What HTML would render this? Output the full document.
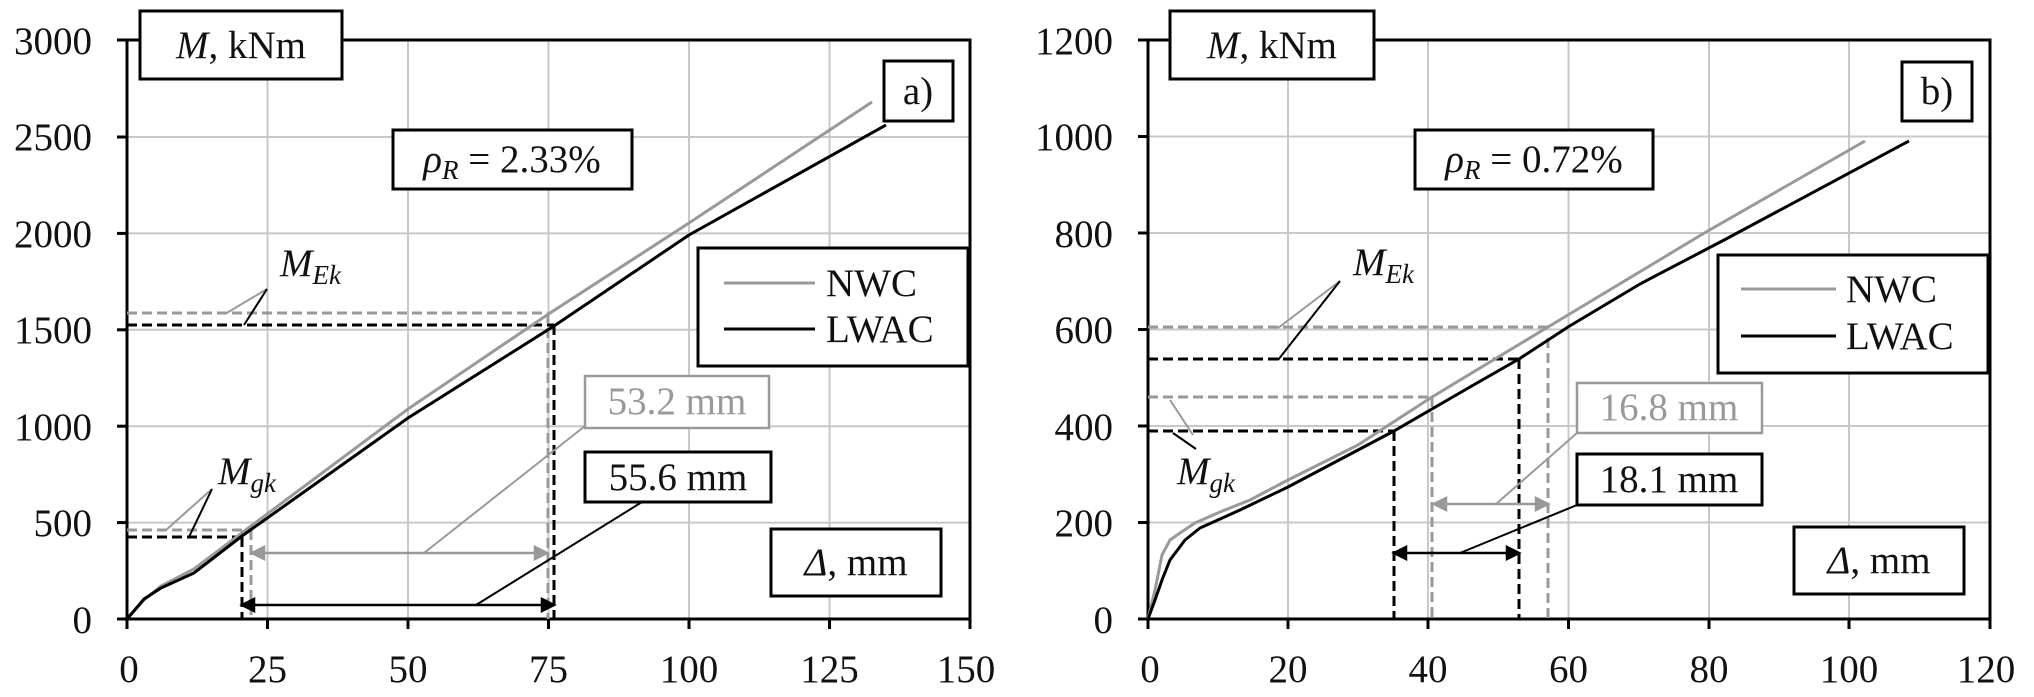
<!DOCTYPE html>
<html><head><meta charset="utf-8"><style>
html,body{margin:0;padding:0;background:#fff;width:2034px;height:697px;overflow:hidden}
text{font-family:"Liberation Serif","Times New Roman",serif;font-size:39px;fill:#111}
</style></head><body>
<svg width="2034" height="697" viewBox="0 0 2034 697" xmlns="http://www.w3.org/2000/svg">
<!-- ============ LEFT PANEL ============ -->
<g stroke="#c8c8c8" stroke-width="2">
<line x1="267.5" y1="40" x2="267.5" y2="619"/><line x1="408" y1="40" x2="408" y2="619"/>
<line x1="548.5" y1="40" x2="548.5" y2="619"/><line x1="689" y1="40" x2="689" y2="619"/>
<line x1="829.5" y1="40" x2="829.5" y2="619"/>
<line x1="127" y1="522.6" x2="970" y2="522.6"/><line x1="127" y1="426.2" x2="970" y2="426.2"/>
<line x1="127" y1="329.8" x2="970" y2="329.8"/><line x1="127" y1="233.4" x2="970" y2="233.4"/>
<line x1="127" y1="137" x2="970" y2="137"/>
</g>
<rect x="127" y="40" width="843" height="579" fill="none" stroke="#000" stroke-width="3"/>
<g stroke="#000" stroke-width="3">
<line x1="117" y1="619" x2="127" y2="619"/><line x1="117" y1="522.6" x2="127" y2="522.6"/><line x1="117" y1="426.2" x2="127" y2="426.2"/><line x1="117" y1="329.8" x2="127" y2="329.8"/><line x1="117" y1="233.4" x2="127" y2="233.4"/><line x1="117" y1="137" x2="127" y2="137"/><line x1="117" y1="40" x2="127" y2="40"/>
<line x1="127" y1="619" x2="127" y2="629"/><line x1="267.5" y1="619" x2="267.5" y2="629"/><line x1="408" y1="619" x2="408" y2="629"/><line x1="548.5" y1="619" x2="548.5" y2="629"/><line x1="689" y1="619" x2="689" y2="629"/><line x1="829.5" y1="619" x2="829.5" y2="629"/><line x1="970" y1="619" x2="970" y2="629"/>
</g>
<g text-anchor="end">
<text transform="translate(92,633)">0</text>
<text transform="translate(92,536)">500</text>
<text transform="translate(92,440)">1000</text>
<text transform="translate(92,343)">1500</text>
<text transform="translate(92,247)">2000</text>
<text transform="translate(92,150)">2500</text>
<text transform="translate(92,54)">3000</text>
</g>
<g text-anchor="middle">
<text transform="translate(129,682)">0</text>
<text transform="translate(267.5,682)">25</text>
<text transform="translate(408,682)">50</text>
<text transform="translate(548.5,682)">75</text>
<text transform="translate(689,682)">100</text>
<text transform="translate(829.5,682)">125</text>
<text transform="translate(966,682)">150</text>
</g>
<g fill="none" stroke-width="3" stroke-dasharray="10,5">
<path d="M127,313 H548 M127,530 H251 M251,530 V619 M548,313 V619" stroke="#999"/>
<path d="M127,325 H554 M127,537 H242 M242,537 V619 M554,325 V619" stroke="#000"/>
</g>
<polyline fill="none" stroke="#999" stroke-width="3" points="127,619 144,600 161,586 194,569 251,526 408,409 548.5,314 689,223 872,102"/>
<polyline fill="none" stroke="#000" stroke-width="3" points="127,619 144,599 161,588 194,573 242,536 408,418 554,326 689,235 886,125"/>
<g stroke="#999" stroke-width="2.5" fill="#999"><line x1="256" y1="553" x2="543" y2="553"/><path d="M252,553 l12,-6 v12z M547,553 l-12,-6 v12z"/></g>
<g stroke="#000" stroke-width="2.5" fill="#000"><line x1="246" y1="605" x2="550" y2="605"/><path d="M242,605 l12,-6 v12z M554,605 l-12,-6 v12z"/></g>
<g fill="none" stroke-width="2">
<path d="M424,553 L585,426" stroke="#999"/><path d="M476,605 L642,502" stroke="#000"/>
<path d="M225,314 L267,289" stroke="#999"/><path d="M244,325 L267,289" stroke="#000"/>
<path d="M166,530 L212,489" stroke="#999"/><path d="M189,537 L212,489" stroke="#000"/>
</g>
<text transform="translate(280,276)" font-style="italic">M<tspan font-size="27" dy="8">Ek</tspan></text>
<text transform="translate(218,484)" font-style="italic">M<tspan font-size="27" dy="8">gk</tspan></text>
<g fill="#fff" stroke="#000" stroke-width="3">
<rect x="140" y="11" width="202" height="68"/>
<rect x="884" y="61" width="69" height="60"/>
<rect x="393" y="130" width="239" height="59"/>
<rect x="698" y="248" width="270" height="118"/>
<rect x="585" y="452" width="186" height="50"/>
<rect x="771" y="529" width="170" height="67"/>
</g>
<rect x="585" y="376" width="184" height="52" fill="#fff" stroke="#999" stroke-width="2.5"/>
<text transform="translate(241,58)" text-anchor="middle"><tspan font-style="italic">M</tspan>, kNm</text>
<text transform="translate(918,104)" text-anchor="middle">a)</text>
<text transform="translate(512,172)" text-anchor="middle"><tspan font-style="italic">ρ</tspan><tspan font-style="italic" font-size="27" dy="7">R</tspan><tspan dy="-7"> = 2.33%</tspan></text>
<line x1="724" y1="283" x2="815" y2="283" stroke="#999" stroke-width="3"/>
<line x1="724" y1="329" x2="815" y2="329" stroke="#000" stroke-width="3"/>
<text transform="translate(826,296)">NWC</text>
<text transform="translate(826,342)">LWAC</text>
<text transform="translate(677,414)" text-anchor="middle" style="fill:#999">53.2 mm</text>
<text transform="translate(678,490)" text-anchor="middle">55.6 mm</text>
<text transform="translate(856,575)" text-anchor="middle"><tspan font-style="italic">Δ</tspan>, mm</text>

<!-- ============ RIGHT PANEL ============ -->
<g stroke="#c8c8c8" stroke-width="2">
<line x1="1288" y1="40" x2="1288" y2="619"/><line x1="1428" y1="40" x2="1428" y2="619"/>
<line x1="1568.5" y1="40" x2="1568.5" y2="619"/><line x1="1709" y1="40" x2="1709" y2="619"/>
<line x1="1849" y1="40" x2="1849" y2="619"/>
<line x1="1148" y1="522.5" x2="1990" y2="522.5"/><line x1="1148" y1="426" x2="1990" y2="426"/>
<line x1="1148" y1="329.5" x2="1990" y2="329.5"/><line x1="1148" y1="233" x2="1990" y2="233"/>
<line x1="1148" y1="136.5" x2="1990" y2="136.5"/>
</g>
<rect x="1148" y="40" width="842" height="579" fill="none" stroke="#000" stroke-width="3"/>
<g stroke="#000" stroke-width="3">
<line x1="1138" y1="619" x2="1148" y2="619"/><line x1="1138" y1="522.5" x2="1148" y2="522.5"/><line x1="1138" y1="426" x2="1148" y2="426"/><line x1="1138" y1="329.5" x2="1148" y2="329.5"/><line x1="1138" y1="233" x2="1148" y2="233"/><line x1="1138" y1="136.5" x2="1148" y2="136.5"/><line x1="1138" y1="40" x2="1148" y2="40"/>
<line x1="1148" y1="619" x2="1148" y2="629"/><line x1="1288" y1="619" x2="1288" y2="629"/><line x1="1428" y1="619" x2="1428" y2="629"/><line x1="1568.5" y1="619" x2="1568.5" y2="629"/><line x1="1709" y1="619" x2="1709" y2="629"/><line x1="1849" y1="619" x2="1849" y2="629"/><line x1="1990" y1="619" x2="1990" y2="629"/>
</g>
<g text-anchor="end">
<text transform="translate(1113,633)">0</text>
<text transform="translate(1113,536)">200</text>
<text transform="translate(1113,440)">400</text>
<text transform="translate(1113,343)">600</text>
<text transform="translate(1113,247)">800</text>
<text transform="translate(1113,150)">1000</text>
<text transform="translate(1113,54)">1200</text>
</g>
<g text-anchor="middle">
<text transform="translate(1150,682)">0</text>
<text transform="translate(1288,682)">20</text>
<text transform="translate(1428,682)">40</text>
<text transform="translate(1568.5,682)">60</text>
<text transform="translate(1709,682)">80</text>
<text transform="translate(1849,682)">100</text>
<text transform="translate(1986,682)">120</text>
</g>
<g fill="none" stroke-width="3" stroke-dasharray="10,5">
<path d="M1148,327 H1548 M1148,397 H1432 M1432,397 V619 M1548,338 V619" stroke="#999"/>
<path d="M1148,359 H1519 M1148,431 H1394 M1394,431 V619 M1519,359 V619" stroke="#000"/>
</g>
<polyline fill="none" stroke="#999" stroke-width="3" points="1148,619 1155,590 1162,555 1170,540 1180,533 1195,523 1220,512 1250,500 1288,480 1358,445 1432,397 1548,327 1706,232 1865,141"/>
<polyline fill="none" stroke="#000" stroke-width="3" points="1148,619 1155,600 1162,580 1170,560 1185,540 1200,528 1240,510 1288,487 1394,431 1470,387 1519,359 1568,327 1640,284 1726,239 1909,141"/>
<g stroke="#999" stroke-width="2.5" fill="#999"><line x1="1438" y1="504" x2="1544" y2="504"/><path d="M1434,504 l12,-6 v12z M1548,504 l-12,-6 v12z"/></g>
<g stroke="#000" stroke-width="2.5" fill="#000"><line x1="1398" y1="553" x2="1515" y2="553"/><path d="M1394,553 l12,-6 v12z M1519,553 l-12,-6 v12z"/></g>
<g fill="none" stroke-width="2">
<path d="M1496,504 L1577,433" stroke="#999"/><path d="M1460,553 L1577,505" stroke="#000"/>
<path d="M1278,328 L1340,281" stroke="#999"/><path d="M1278,360 L1340,281" stroke="#000"/>
<path d="M1170,400 L1193,435" stroke="#999"/><path d="M1173,433 L1196,449" stroke="#000"/>
</g>
<text transform="translate(1353,275)" font-style="italic">M<tspan font-size="27" dy="8">Ek</tspan></text>
<text transform="translate(1177,484)" font-style="italic">M<tspan font-size="27" dy="8">gk</tspan></text>
<g fill="#fff" stroke="#000" stroke-width="3">
<rect x="1170" y="11" width="204" height="68"/>
<rect x="1902" y="62" width="70" height="59"/>
<rect x="1415" y="130" width="238" height="59"/>
<rect x="1718" y="255" width="270" height="118"/>
<rect x="1577" y="454" width="185" height="51"/>
<rect x="1794" y="527" width="170" height="67"/>
</g>
<rect x="1577" y="383" width="185" height="50" fill="#fff" stroke="#999" stroke-width="2.5"/>
<text transform="translate(1272,58)" text-anchor="middle"><tspan font-style="italic">M</tspan>, kNm</text>
<text transform="translate(1937,104)" text-anchor="middle">b)</text>
<text transform="translate(1534,172)" text-anchor="middle"><tspan font-style="italic">ρ</tspan><tspan font-style="italic" font-size="27" dy="7">R</tspan><tspan dy="-7"> = 0.72%</tspan></text>
<line x1="1741" y1="289" x2="1836" y2="289" stroke="#999" stroke-width="3"/>
<line x1="1741" y1="336" x2="1836" y2="336" stroke="#000" stroke-width="3"/>
<text transform="translate(1846,302)">NWC</text>
<text transform="translate(1846,349)">LWAC</text>
<text transform="translate(1669,420)" text-anchor="middle" style="fill:#999">16.8 mm</text>
<text transform="translate(1669,492)" text-anchor="middle">18.1 mm</text>
<text transform="translate(1879,573)" text-anchor="middle"><tspan font-style="italic">Δ</tspan>, mm</text>
</svg>
</body></html>
